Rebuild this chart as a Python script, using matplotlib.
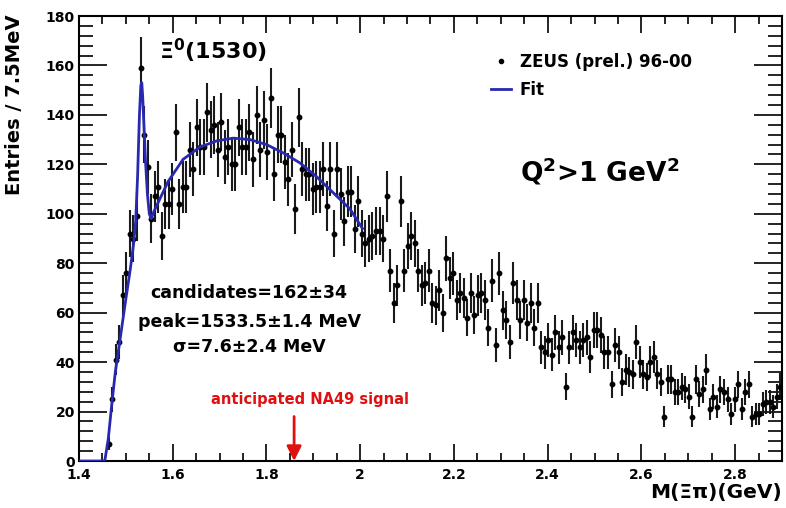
import numpy as np
import matplotlib.pyplot as plt
from matplotlib.lines import Line2D
from matplotlib.ticker import MultipleLocator, FuncFormatter

plt.rcParams['font.family'] = ['DejaVu Sans']
plt.rcParams['mathtext.fontset'] = 'dejavusans'

# histogram: 7.5 MeV bins starting at 1.4 GeV, bins below 1.46 GeV are empty
bin_width = 0.0075
first_bin = 8
counts = [
    7, 25, 41, 48, 67, 76, 92, 90, 99, 159, 132, 119,
    98, 107, 111, 91, 104, 104, 110, 133, 104, 111, 111, 126,
    118, 135, 127, 127, 141, 134, 136, 126, 137, 123, 127, 120,
    120, 135, 127, 127, 133, 122, 140, 126, 138, 125, 147, 116,
    132, 132, 121, 114, 126, 102, 139, 118, 116, 116, 110, 111,
    111, 118, 103, 118, 92, 118, 108, 97, 109, 109, 94, 105,
    92, 88, 90, 91, 93, 93, 90, 107, 77, 64, 71, 105,
    77, 87, 91, 88, 77, 71, 72, 77, 64, 63, 69, 60,
    82, 74, 76, 65, 68, 66, 58, 68, 59, 67, 68, 65,
    54, 73, 47, 76, 61, 57, 48, 72, 65, 57, 65, 56,
    64, 54, 64, 46, 44, 49, 43, 52, 46, 50, 30, 46,
    52, 49, 46, 49, 50, 42, 53, 53, 51, 44, 44, 31,
    47, 44, 32, 37, 36, 35, 48, 40, 35, 34, 40, 42,
    35, 32, 18, 33, 33, 28, 28, 30, 29, 26, 18, 33,
    27, 29, 37, 21, 26, 22, 29, 28, 25, 19, 25, 31,
    21, 28, 31, 18, 19, 19, 23, 24, 24, 22, 26, 30,
]
counts = np.array(counts, dtype=float)
mass = 1.4 + (np.arange(first_bin, first_bin + len(counts)) + 0.5) * bin_width
errors = np.sqrt(counts)

# fitted curve
fit_mass = [1.400, 1.455, 1.4625, 1.470, 1.4775, 1.4875, 1.498, 1.509, 1.516,
            1.521, 1.525, 1.529, 1.532, 1.534, 1.536, 1.539, 1.542, 1.546,
            1.550, 1.554, 1.560, 1.575, 1.590, 1.622, 1.658, 1.694, 1.729,
            1.765, 1.800, 1.836, 1.872, 1.907, 1.943, 1.978, 2.005]
fit_vals = [0, 0, 9, 23, 36, 49, 63, 77, 87,
            97, 115, 140, 152, 153, 147, 134, 121, 108,
            100, 98, 101, 107, 113, 122, 127, 129.5, 130.6,
            130, 128, 124.6, 120.5, 115, 108.4, 102, 94]

fig = plt.figure(figsize=(7.86, 5.08), dpi=100)
ax = fig.add_axes([0.1005, 0.0925, 0.8944, 0.876])

ax.errorbar(mass, counts, yerr=errors, xerr=bin_width / 2, fmt='o', ms=3.2,
            color='k', ecolor='#1a1a1a', elinewidth=1.5, capsize=0, zorder=2)
ax.plot(fit_mass, fit_vals, color='#2828b0', lw=2, zorder=3)

ax.set_xlim(1.4, 2.9)
ax.set_ylim(0, 180)
ax.xaxis.set_major_locator(MultipleLocator(0.2))
ax.xaxis.set_minor_locator(MultipleLocator(0.05))
ax.yaxis.set_major_locator(MultipleLocator(20))
ax.yaxis.set_minor_locator(MultipleLocator(4))
ax.xaxis.set_major_formatter(FuncFormatter(lambda v, p: f'{v:g}'))
ax.tick_params(which='both', direction='in', top=True, right=True, width=1.2)
ax.tick_params(axis='y', which='major', length=20, pad=3)
ax.tick_params(axis='y', which='minor', length=10)
ax.tick_params(axis='x', which='major', length=12, pad=5)
ax.tick_params(axis='x', which='minor', length=6)
for lab in ax.get_xticklabels() + ax.get_yticklabels():
    lab.set_fontweight('bold')
    lab.set_fontsize(10)
for s in ax.spines.values():
    s.set_linewidth(1.5)

fig.text(0.019, 0.972, 'Entries / 7.5MeV', rotation=90, ha='center', va='top',
         fontsize=14, fontweight='bold')
fig.text(0.995, 0.03, 'M(Ξπ)(GeV)', ha='right', va='center',
         fontsize=14.5, fontweight='bold')

ax.text(1.686, 166, r'$\mathbf{\Xi^0}$(1530)', ha='center', va='center',
        fontsize=16, fontweight='bold')
ax.text(2.51, 117, r'Q$^{\mathbf{2}}$>1 GeV$^{\mathbf{2}}$', ha='center', va='center',
        fontsize=19, fontweight='bold')
ax.text(1.763, 68, 'candidates=162±34', ha='center', va='center',
        fontsize=12.5, fontweight='bold')
ax.text(1.763, 56.2, 'peak=1533.5±1.4 MeV', ha='center', va='center',
        fontsize=12.5, fontweight='bold')
ax.text(1.763, 46.1, 'σ=7.6±2.4 MeV', ha='center', va='center',
        fontsize=12.5, fontweight='bold')
ax.text(1.893, 24.7, 'anticipated NA49 signal', ha='center', va='center',
        fontsize=10.5, fontweight='bold', color='#e01010')
ax.annotate('', xy=(1.859, 0), xytext=(1.859, 18),
            arrowprops=dict(arrowstyle='-|>', color='#e01010', lw=2,
                            mutation_scale=22, shrinkA=0, shrinkB=0))

handles = [Line2D([], [], marker='o', ms=3, ls='none', color='k'),
           Line2D([], [], color='#2828b0', lw=2)]
ax.legend(handles, ['ZEUS (prel.) 96-00', 'Fit'], loc='upper left',
          bbox_to_anchor=(0.565, 0.95), frameon=False, handlelength=1.2,
          handletextpad=0.5, labelspacing=0.6,
          prop={'size': 12, 'weight': 'bold'})

fig.savefig('out.png', dpi=100)
